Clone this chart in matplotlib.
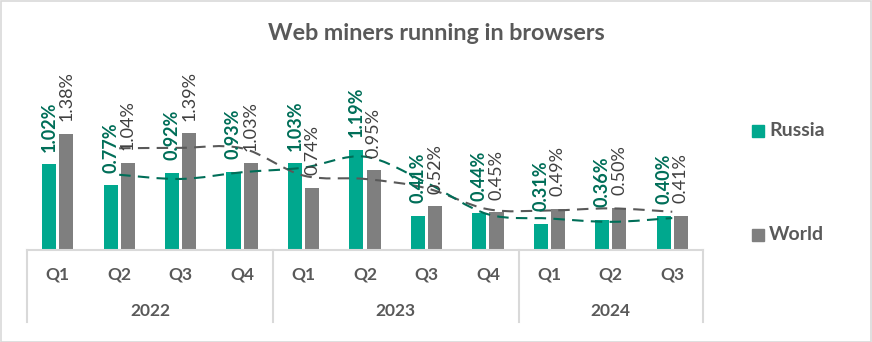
import numpy as np
import matplotlib.pyplot as plt
from matplotlib.path import Path
from matplotlib.patches import PathPatch, Rectangle
import matplotlib.transforms as mtransforms

plt.rcParams['font.family'] = ['Lato', 'DejaVu Sans']

quarters = ["Q1", "Q2", "Q3", "Q4", "Q1", "Q2", "Q3", "Q4", "Q1", "Q2", "Q3"]
years = ["2022", "2023", "2024"]
year_sizes = [4, 4, 3]
russia = [1.02, 0.77, 0.92, 0.93, 1.03, 1.19, 0.41, 0.44, 0.31, 0.36, 0.40]
world = [1.38, 1.04, 1.39, 1.03, 0.74, 0.95, 0.52, 0.45, 0.49, 0.50, 0.41]

c_russia = "#00A88E"
c_russia_dark = "#006E58"
c_world = "#7F7F7F"
c_text = "#595959"
c_grid = "#D9D9D9"

W, H = 872, 342
fig = plt.figure(figsize=(W / 100, H / 100), dpi=100)
ax = fig.add_axes([27 / W, 1 - 250 / H, (703 - 27) / W, (250 - 60) / H])

x = np.arange(len(quarters))
bw = 0.23
off = 0.14
ax.bar(x - off, russia, bw, color=c_russia, zorder=2)
ax.bar(x + off, world, bw, color=c_world, zorder=2)

for xi, r, w in zip(x, russia, world):
    ax.annotate(f"{r:.2f}%", (xi - off, r), xytext=(0, 9), textcoords="offset points",
                rotation=90, ha="center", va="bottom", fontsize=13, fontweight="bold",
                color=c_russia_dark, zorder=4)
    ax.annotate(f"{w:.2f}%", (xi + off, w), xytext=(0, 9), textcoords="offset points",
                rotation=90, ha="center", va="bottom", fontsize=13,
                color="#404040", zorder=4)


def smooth_path(xs, ys, t=1 / 6):
    # Catmull-Rom style cubic segments through the points
    pts = np.column_stack([xs, ys])
    verts = [pts[0]]
    codes = [Path.MOVETO]
    n = len(pts)
    for i in range(n - 1):
        p0 = pts[max(i - 1, 0)]
        p1 = pts[i]
        p2 = pts[i + 1]
        p3 = pts[min(i + 2, n - 1)]
        c1 = p1 + (p2 - p0) * t
        c2 = p2 - (p3 - p1) * t
        verts += [c1, c2, p2]
        codes += [Path.CURVE4] * 3
    return Path(verts, codes)


# two-period moving averages
for vals, col in ((world, "#595959"), (russia, c_russia_dark)):
    v = np.array(vals)
    ma = (v[1:] + v[:-1]) / 2
    p = smooth_path(x[1:].astype(float), ma)
    ax.add_patch(PathPatch(p, fill=False, edgecolor=col, lw=1.5,
                           linestyle=(0, (5.5, 3.5)), zorder=3))

ax.set_xlim(-0.5, len(quarters) - 0.5)
ax.set_ylim(0, 2.26)
for s in ax.spines.values():
    s.set_visible(False)
ax.set_xticks([])
ax.set_yticks([])

# category axis with year groups
tr = mtransforms.blended_transform_factory(ax.transData, ax.transAxes)
bottom = -(322 - 250) / 190
ax.plot([-0.5, len(quarters) - 0.5], [0, 0], color=c_grid, lw=1.5, transform=tr, clip_on=False)
for xi, q in zip(x, quarters):
    ax.text(xi, -(274 - 250) / 190, q, transform=tr, ha="center", va="center",
            fontsize=12.5, fontweight="bold", color=c_text)
start = -0.5
ax.plot([start, start], [0, bottom], color=c_grid, lw=1.5, transform=tr, clip_on=False)
for yr, n in zip(years, year_sizes):
    end = start + n
    ax.plot([end, end], [0, bottom], color=c_grid, lw=1.5, transform=tr, clip_on=False)
    ax.text((start + end) / 2, -(311 - 250) / 190, yr, transform=tr, ha="center",
            va="center", fontsize=12.5, fontweight="bold", color=c_text)
    start = end

fig.text(436 / W, 1 - 34 / H, "Web miners running in browsers", ha="center", va="center",
         fontsize=16.8, fontweight="bold", color=c_text)

# legend
for lbl, col, yc in (("Russia", c_russia, 131), ("World", c_world, 235)):
    fig.patches.append(Rectangle((752 / W, 1 - (yc + 6) / H), 12 / W, 12 / H,
                                 transform=fig.transFigure, color=col))
    fig.text(769 / W, 1 - yc / H, lbl, ha="left", va="center", fontsize=14,
             fontweight="bold", color=c_text)

fig.patches.append(Rectangle((0.5 / W, 0.5 / H), (W - 1.5) / W, (H - 1.5) / H,
                             transform=fig.transFigure, fill=False, edgecolor=c_grid, lw=1.2))

fig.savefig("out.png", dpi=100)
